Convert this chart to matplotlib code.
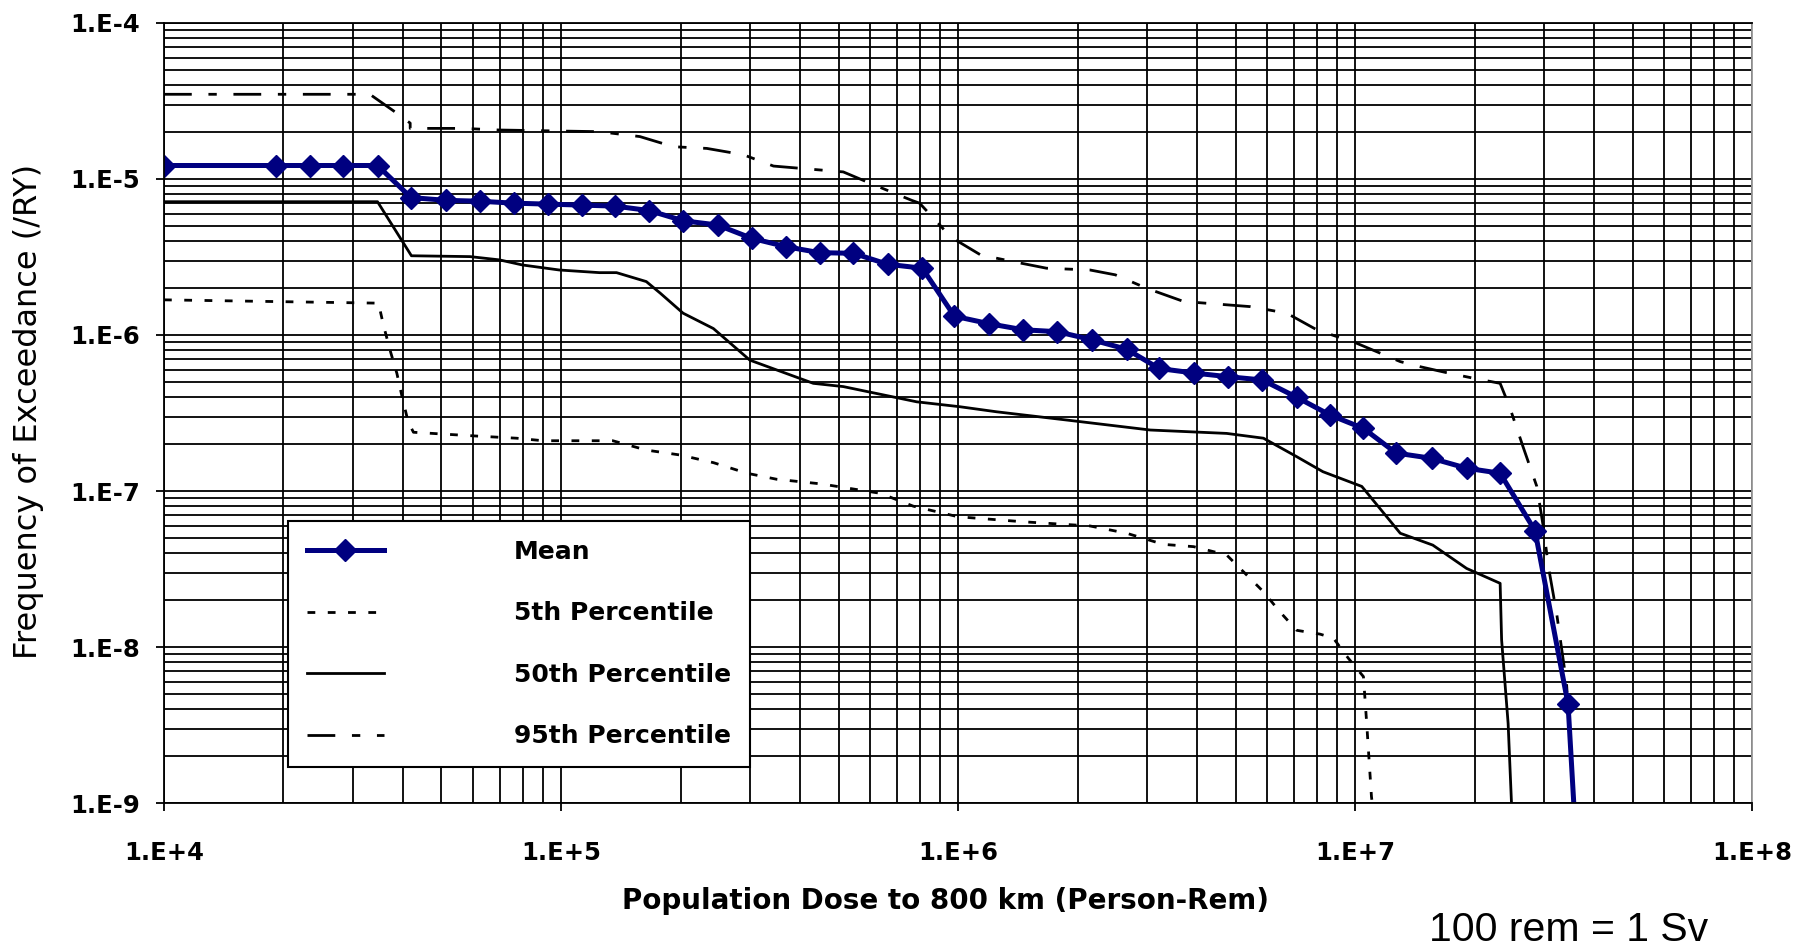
import numpy as np
import matplotlib.pyplot as plt
from matplotlib.ticker import LogLocator, FuncFormatter, NullFormatter

plt.rcParams['font.family'] = ['DejaVu Sans']
plt.rcParams['font.weight'] = 'bold'

# values
mean_x = [1.0e4, 1.91e4, 2.33e4, 2.83e4, 3.45e4, 4.19e4, 5.12e4, 6.25e4, 7.6e4, 9.25e4,
          1.13e5, 1.37e5, 1.67e5, 2.03e5, 2.48e5, 3.02e5, 3.69e5, 4.48e5, 5.45e5, 6.65e5,
          8.13e5, 9.79e5, 1.2e6, 1.46e6, 1.78e6, 2.18e6, 2.66e6, 3.21e6, 3.94e6, 4.8e6,
          5.84e6, 7.13e6, 8.65e6, 1.05e7, 1.27e7, 1.56e7, 1.91e7, 2.32e7, 2.84e7, 3.44e7, 3.56e7]
mean_y = [1.22e-5, 1.22e-5, 1.22e-5, 1.22e-5, 1.22e-5, 7.6e-6, 7.3e-6, 7.2e-6, 7.0e-6, 6.9e-6,
          6.8e-6, 6.7e-6, 6.27e-6, 5.4e-6, 5.07e-6, 4.17e-6, 3.68e-6, 3.37e-6, 3.34e-6, 2.84e-6,
          2.68e-6, 1.32e-6, 1.18e-6, 1.08e-6, 1.05e-6, 9.3e-7, 8.1e-7, 6.1e-7, 5.7e-7, 5.4e-7,
          5.15e-7, 3.99e-7, 3.07e-7, 2.52e-7, 1.75e-7, 1.62e-7, 1.40e-7, 1.30e-7, 5.57e-8, 4.3e-9, 9.5e-10]

p5_x = [1.0e4, 3.47e4, 3.57e4, 3.71e4, 3.86e4, 3.97e4, 4.12e4, 4.25e4, 5.01e4, 6.14e4,
        7.73e4, 9.02e4, 1.35e5, 1.64e5, 2.0e5, 2.42e5, 2.94e5, 3.49e5, 4.53e5, 6.37e5,
        7.71e5, 1.0e6, 1.46e6, 2.15e6, 2.66e6, 3.29e6, 3.92e6, 4.75e6, 5.88e6, 6.47e6,
        7.13e6, 8.16e6, 8.82e6, 9.62e6, 1.05e7, 1.07e7, 1.1e7, 1.11e7]
p5_y = [1.68e-6, 1.6e-6, 1.16e-6, 8.0e-7, 5.68e-7, 4.12e-7, 2.78e-7, 2.38e-7, 2.32e-7, 2.25e-7,
        2.18e-7, 2.1e-7, 2.1e-7, 1.83e-7, 1.70e-7, 1.52e-7, 1.30e-7, 1.19e-7, 1.11e-7, 9.67e-8,
        8.0e-8, 6.84e-8, 6.35e-8, 5.97e-8, 5.36e-8, 4.55e-8, 4.4e-8, 3.89e-8, 2.26e-8, 1.68e-8,
        1.28e-8, 1.21e-8, 1.14e-8, 8.47e-9, 6.46e-9, 3.24e-9, 1.1e-9, 9.0e-10]

p50_x = [1.0e4, 3.45e4, 4.2e4, 5.9e4, 7.0e4, 8.0e4, 9.9e4, 1.25e5, 1.38e5, 1.64e5,
         1.78e5, 2.03e5, 2.42e5, 2.99e5, 4.32e5, 5.14e5, 7.87e5, 1.01e6, 1.25e6, 1.88e6,
         3.05e6, 4.75e6, 5.88e6, 7.13e6, 8.3e6, 1.04e7, 1.30e7, 1.57e7, 1.91e7, 2.32e7,
         2.34e7, 2.43e7, 2.48e7]
p50_y = [7.15e-6, 7.15e-6, 3.22e-6, 3.18e-6, 3.03e-6, 2.81e-6, 2.61e-6, 2.51e-6, 2.51e-6, 2.2e-6,
         1.85e-6, 1.38e-6, 1.1e-6, 6.9e-7, 4.9e-7, 4.67e-7, 3.73e-7, 3.47e-7, 3.22e-7, 2.85e-7,
         2.46e-7, 2.34e-7, 2.18e-7, 1.66e-7, 1.33e-7, 1.07e-7, 5.36e-8, 4.5e-8, 3.19e-8, 2.56e-8,
         1.11e-8, 3.24e-9, 9.5e-10]

p95_x = [1.0e4, 3.3e4, 3.86e4, 4.17e4, 4.17e4, 5.67e4, 7.0e4, 1.25e5, 1.58e5, 1.92e5,
         2.33e5, 2.88e5, 3.43e5, 5.14e5, 6.0e5, 7.64e5, 8.0e5, 9.0e5, 9.55e5, 1.14e6,
         1.38e6, 1.67e6, 2.15e6, 2.49e6, 2.99e6, 3.7e6, 5.45e6, 6.73e6, 8.01e6, 1.01e7,
         1.30e7, 1.46e7, 1.73e7, 1.99e7, 2.32e7, 2.45e7, 2.65e7, 2.87e7, 2.98e7, 3.07e7,
         3.22e7, 3.41e7, 3.56e7]
p95_y = [3.49e-5, 3.49e-5, 2.64e-5, 2.28e-5, 2.11e-5, 2.11e-5, 2.06e-5, 2.01e-5, 1.87e-5, 1.61e-5,
         1.57e-5, 1.43e-5, 1.21e-5, 1.11e-5, 9.4e-6, 7.3e-6, 7.0e-6, 5.07e-6, 4.27e-6, 3.26e-6,
         2.95e-6, 2.68e-6, 2.61e-6, 2.43e-6, 1.99e-6, 1.64e-6, 1.52e-6, 1.38e-6, 1.08e-6, 8.85e-7,
         6.75e-7, 6.26e-7, 5.68e-7, 5.28e-7, 4.9e-7, 3.47e-7, 1.92e-7, 1.07e-7, 5.9e-8, 3.27e-8,
         1.64e-8, 5.85e-9, 9.5e-10]

labels = ["Mean", "5th Percentile", "50th Percentile", "95th Percentile"]

fig = plt.figure(figsize=(18.04, 9.49), dpi=100)
ax = fig.add_axes([0.0909, 0.1538, 0.8803, 0.8220])

l95, = ax.plot(p95_x, p95_y, color='black', lw=2, dashes=(10, 6, 3, 6), label=labels[3])
l5, = ax.plot(p5_x, p5_y, color='black', lw=2, dashes=(2.8, 4.5), label=labels[1])
l50, = ax.plot(p50_x, p50_y, color='black', lw=2, label=labels[2])
lmean, = ax.plot(mean_x, mean_y, color='#000080', lw=3.6, marker='D', ms=11.5,
                 markevery=list(range(len(mean_x) - 1)), label=labels[0])

ax.set_xscale('log')
ax.set_yscale('log')
ax.set_xlim(1e4, 1e8)
ax.set_ylim(1e-9, 1e-4)

ax.xaxis.set_major_locator(LogLocator(base=10, numticks=10))
ax.yaxis.set_major_locator(LogLocator(base=10, numticks=10))
ax.xaxis.set_minor_locator(LogLocator(base=10, subs=np.arange(2, 10), numticks=20))
ax.yaxis.set_minor_locator(LogLocator(base=10, subs=np.arange(2, 10), numticks=20))
fmt = FuncFormatter(lambda v, p: "1.E%+d" % int(round(np.log10(v))))
ax.xaxis.set_major_formatter(fmt)
ax.yaxis.set_major_formatter(fmt)
ax.xaxis.set_minor_formatter(NullFormatter())
ax.yaxis.set_minor_formatter(NullFormatter())

ax.set_axisbelow(True)
ax.grid(True, which='both', color='black', lw=1.3)
ax.tick_params(which='minor', length=0)
ax.tick_params(axis='x', which='major', direction='out', length=6, width=1.3, labelsize=17.5, pad=21)
ax.tick_params(axis='y', which='major', direction='out', length=6, width=1.3, labelsize=17.5, pad=11)
for s in ax.spines.values():
    s.set_linewidth(1.3)
ax.spines['right'].set_color('#999999')

ax.set_xlabel("Population Dose to 800 km (Person-Rem)", fontsize=20, fontweight='bold')
ax.xaxis.set_label_coords(0.492, -0.1256)
ax.xaxis.label.set_va('center')
ax.set_ylabel("Frequency of Exceedance (/RY)", fontsize=23, fontweight='normal')
ax.yaxis.set_label_coords(-0.085, 0.5026)
ax.yaxis.label.set_va('center')

leg = ax.legend(handles=[lmean, l5, l50, l95], loc='upper left', bbox_to_anchor=(0.078, 0.3615),
                borderaxespad=0, fontsize=18, handlelength=3.1, handletextpad=5.2,
                labelspacing=1.5, borderpad=0.75, fancybox=False, framealpha=1,
                edgecolor='black')
leg.get_frame().set_linewidth(1.5)

fig.text(0.8697, 0.02, "100 rem = 1 Sv", fontsize=29.5, fontweight='normal',
         family=['Liberation Sans', 'DejaVu Sans'], ha='center', va='center')

fig.savefig("out.png", dpi=100)
